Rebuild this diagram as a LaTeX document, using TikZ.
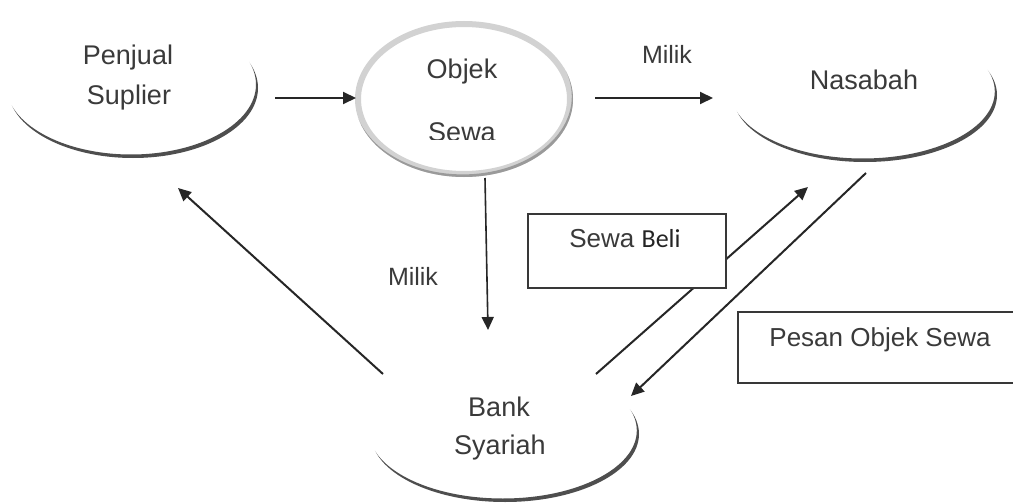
\documentclass[tikz,border=0pt]{standalone}
\usepackage{fontspec}
\setmainfont{Liberation Sans}
\newfontfamily\calib{Carlito}
\usetikzlibrary{arrows.meta,shapes.geometric}

\definecolor{ink}{HTML}{3A3A3A}
\definecolor{inkdark}{HTML}{242424}
\definecolor{lineclr}{HTML}{262626}
\definecolor{rim}{HTML}{4E4E4E}
\definecolor{rimlight}{HTML}{D2D2D2}
\definecolor{rimshade}{HTML}{9A9A9A}
\definecolor{boxclr}{HTML}{383838}

% Crescent-shaped outline on the lower right of an ellipse:
% [colour] {cx}{cy}{rx}{ry}{dx}{dy}
\newcommand\moonarc[7][rim]{%
  \begin{scope}
    \clip (#2,#3) ellipse [x radius=#4, y radius=#5];
    \fill[#1, even odd rule]
      (#2-#4-12,#3-#5-12) rectangle (#2+#4+12,#3+#5+12)
      (#2-#6,#3-#7) ellipse [x radius=#4, y radius=#5];
  \end{scope}}

\tikzset{
  blob/.style={shape=ellipse, inner sep=0pt},
  lbl/.style={font=\fontsize{27}{30}\selectfont, text=ink, inner sep=0pt, anchor=base},
  small/.style={lbl, font=\fontsize{25}{28}\selectfont},
  arr/.style={draw=lineclr, line width=2pt, -{Triangle[length=13pt,width=12pt]}},
  thinarr/.style={arr, line width=1.6pt},
  box/.style={draw=boxclr, line width=1.8pt, fill=white, inner sep=0pt, anchor=north west},
}

\begin{document}
\begin{tikzpicture}[x=1pt,y=-1pt]
\clip (0,0) rectangle (1013,503);
\fill[white] (0,0) rectangle (1013,503);

% --- Penjual / Suplier
\node[blob, minimum width=250pt, minimum height=140pt] (pen) at (133,88) {};
\moonarc{133}{88}{125}{70}{2.0}{3.5}
\node[lbl] (penA) at (128,65) {Penjual};
\node[lbl] (penB) at (129,105) {Suplier};

% --- Objek Sewa (full ring)
\node[blob, minimum width=218pt, minimum height=156pt, fill=white] (obj) at (464,99) {};
\draw[line width=6pt, draw=rimlight] (464,99) ellipse [x radius=106, y radius=75];
\moonarc[rimshade]{464}{99}{109}{78}{1.2}{2.6}
\node[lbl] (objA) at (462,78) {Objek};
\begin{scope}
  \clip (400,100) rectangle (530,139);
  \node[lbl] (objB) at (462,141) {Sewa};
\end{scope}

% --- Nasabah
\node[blob, minimum width=264pt, minimum height=134pt] (nas) at (865,95) {};
\moonarc{865}{95}{132}{67}{2.2}{3.5}
\node[lbl] (nasA) at (864,89) {Nasabah};

% --- Bank Syariah
\node[blob, minimum width=268pt, minimum height=136pt] (bank) at (505,434) {};
\moonarc{505}{434}{134}{68}{2.2}{3.5}
\node[lbl] (bankA) at (499,416) {Bank};
\node[lbl] (bankB) at (500,454) {Syariah};

% --- connector ends
\coordinate (penOut)  at (275,98);
\coordinate (objIn)   at (356,98);
\coordinate (objOut)  at (595,98);
\coordinate (nasIn)   at (713,98);
\coordinate (objDown) at (485,178);
\coordinate (bankTop) at (488,330);
\coordinate (bankNW)  at (383,374);
\coordinate (penSE)   at (178,188);
\coordinate (bankNE)  at (596,374);
\coordinate (nasSW)   at (808,187);
\coordinate (nasS)    at (866,173);
\coordinate (bankE)   at (631,396);

% --- connectors
\draw[arr] (penOut) -- (objIn);
\draw[arr] (objOut) -- (nasIn);
\draw[thinarr] (objDown) -- (bankTop);
\draw[arr] (bankNW) -- (penSE);
\draw[arr] (bankNE) -- (nasSW);
\draw[arr] (nasS) -- (bankE);

% --- labels on the flows
\node[small] (milikTop) at (667,64) {Milik};
\node[small] (milikMid) at (413,285) {Milik};

% --- boxes
\node[box, minimum width=198pt, minimum height=74pt] (sb) at (527,213) {};
\node[lbl, font=\fontsize{26}{29}\selectfont] (sbT) at (625,247) {Sewa {\calib\color{inkdark}Beli}};

\node[box, minimum width=300pt, minimum height=71pt] (po) at (737,311) {};
\node[lbl, font=\fontsize{26}{29}\selectfont] (poT) at (880,346) {Pesan Objek Sewa};
\end{tikzpicture}
\end{document}
